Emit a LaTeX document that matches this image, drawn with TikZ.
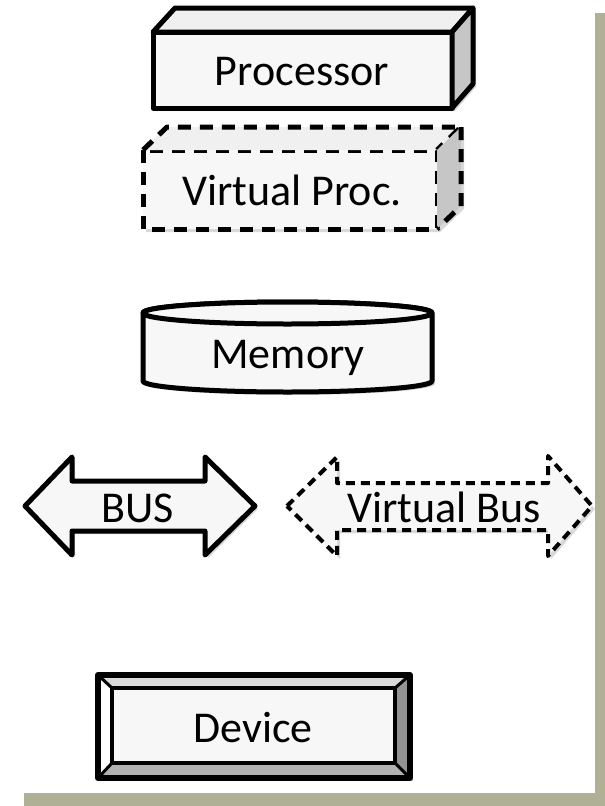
\documentclass[tikz,border=0pt]{standalone}
\usepackage{fontspec}
\setmainfont{Carlito}
\usetikzlibrary{shadows}
\definecolor{facegray}{RGB}{247,247,247}
\definecolor{topgray}{RGB}{240,240,240}
\definecolor{sidegray}{RGB}{198,198,198}
\definecolor{framegreen}{RGB}{176,176,150}
\tikzset{face/.style = {draw=black, line width=5pt, line join=round, fill=facegray},
  vface/.style = {face, line width=5pt, dash pattern=on 13pt off 9pt},
  vbusface/.style = {face, line width=4pt, dash pattern=on 9pt off 6pt},
  castshadow/.style = {drop shadow={opacity=0.3, shadow xshift=3pt, shadow yshift=-3pt}},
  lbl/.style = {anchor=base, inner sep=0pt, font=\fontsize{44}{50}\selectfont}}

\begin{document}
\begin{tikzpicture}[x=1pt, y=-1pt]
      \useasboundingbox [fill=white] (0,0) rectangle (605,806);
      \fill [framegreen] (595,13) rectangle (605,806);
      \fill [framegreen] (24,793) rectangle (605,806);
      % processor
      \path [castshadow] (153,32) -- (175,8) -- (473,8) -- (473,84) -- (452,108) -- (153,108) -- cycle;
      \draw [face] (153,32) rectangle (452,108);
      \draw [face, fill=topgray] (153,32) -- (175,8) -- (473,8) -- (452,32) -- cycle;
      \draw [face, fill=sidegray] (452,32) -- (473,8) -- (473,84) -- (452,108) -- cycle;
      \node [lbl] (proc) at (302,85) {Processor};
      % virtual processor
      \path [castshadow] (143,150) -- (167,127) -- (461,127) -- (461,206) -- (437,229) -- (143,229) -- cycle;
      \draw [vface] (143,150) rectangle (437,229);
      \draw [vface, fill=topgray] (143,150) -- (167,127) -- (461,127) -- (437,150);
      \fill [sidegray] (437,150) -- (461,127) -- (461,206) -- (437,229) -- cycle;
      \draw [vface, fill=none] (461,127) -- (461,206) -- (437,229);
      \node [lbl] (vproc) at (292,205) {Virtual Proc.};
      % memory
      \draw [face, castshadow] (143,313) -- (143,381) arc [start angle=180, end angle=360, x radius=144.5pt, y radius=11pt]
        -- (432,313) arc [start angle=0, end angle=180, x radius=144.5pt, y radius=11pt] -- cycle;
      \draw [face] (287.5,313) ellipse [x radius=144.5pt, y radius=11pt];
      \node [lbl] (mem) at (288,368) {Memory};
      % bus
      \draw [face, castshadow] (25,506) -- (72,457) -- (72,481) -- (205,481) -- (205,457) -- (255,506)
        -- (205,555) -- (205,531) -- (72,531) -- (72,555) -- cycle;
      \node [lbl] (bus) at (138,522) {BUS};
      \draw [vbusface, castshadow] (287,506) -- (337,457) -- (337,483) -- (548,483) -- (548,456) -- (592,506)
        -- (548,556) -- (548,530) -- (337,530) -- (337,556) -- cycle;
      \node [lbl] (vbus) at (444,522) {Virtual Bus};
      % device
      \fill [castshadow, facegray] (98,675) rectangle (410,778);
      \fill [gray!30] (98,675) -- (410,675) -- (395,688) -- (112,688) -- cycle;
      \fill [white] (98,675) -- (112,688) -- (112,763) -- (98,778) -- cycle;
      \fill [gray!85] (410,675) -- (410,778) -- (395,763) -- (395,688) -- cycle;
      \fill [gray!60] (98,778) -- (112,763) -- (395,763) -- (410,778) -- cycle;
      \draw [line width=3pt] (98,675) -- (112,688) (410,675) -- (395,688) (98,778) -- (112,763) (410,778) -- (395,763);
      \draw [line width=4pt] (112,688) rectangle (395,763);
      \draw [line width=6pt, line join=round] (98,675) rectangle (410,778);
      \node [lbl] (dev) at (253,742) {Device};
\end{tikzpicture}
\end{document}
